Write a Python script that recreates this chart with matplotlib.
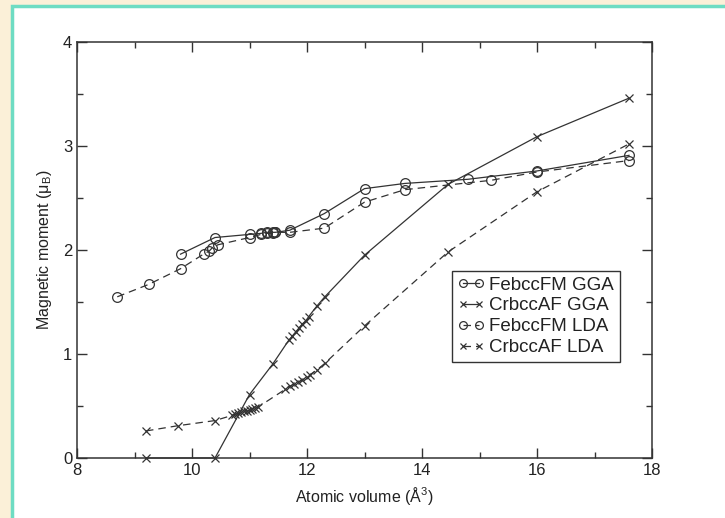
import matplotlib
matplotlib.use('Agg')
import matplotlib.pyplot as plt
from matplotlib.patches import Rectangle
from matplotlib.ticker import MultipleLocator

plt.rcParams['font.family'] = ['Liberation Sans', 'DejaVu Sans']
plt.rcParams['mathtext.fontset'] = 'custom'
plt.rcParams['mathtext.rm'] = 'Liberation Sans'

# FebccFM GGA (solid, circles)
fe_gga_v = [9.8, 10.4, 11.0, 11.2, 11.3, 11.4, 11.45, 11.7, 12.3, 13.0, 13.7, 14.8, 16.0, 17.6]
fe_gga_m = [1.96, 2.12, 2.15, 2.16, 2.17, 2.17, 2.17, 2.19, 2.35, 2.59, 2.64, 2.68, 2.76, 2.91]

# FebccFM LDA (dashed, circles)
fe_lda_v = [8.7, 9.25, 9.8, 10.2, 10.3, 10.35, 10.45, 11.0, 11.2, 11.3, 11.4, 11.45, 11.7, 12.3, 13.0, 13.7, 15.2, 16.0, 17.6]
fe_lda_m = [1.55, 1.67, 1.82, 1.96, 1.99, 2.02, 2.05, 2.12, 2.15, 2.16, 2.16, 2.17, 2.17, 2.21, 2.46, 2.58, 2.67, 2.75, 2.86]

# CrbccAF GGA (solid, crosses)
cr_gga_v = [9.2, 10.4, 11.0, 11.4, 11.68, 11.74, 11.8, 11.86, 11.92, 11.98, 12.03, 12.17, 12.31, 13.0, 14.45, 16.0, 17.6]
cr_gga_m = [0.0, 0.0, 0.61, 0.90, 1.13, 1.17, 1.21, 1.25, 1.29, 1.32, 1.36, 1.46, 1.55, 1.95, 2.63, 3.09, 3.46]

# CrbccAF LDA (dashed, crosses)
cr_lda_v = [9.2, 9.75, 10.4, 10.7, 10.75, 10.8, 10.85, 10.9, 10.95, 11.0, 11.05, 11.1, 11.15, 11.62, 11.7, 11.78, 11.85, 11.92, 12.0, 12.05, 12.18, 12.31, 13.0, 14.45, 16.0, 17.6]
cr_lda_m = [0.26, 0.31, 0.36, 0.41, 0.42, 0.43, 0.44, 0.45, 0.45, 0.46, 0.47, 0.48, 0.49, 0.66, 0.69, 0.71, 0.73, 0.75, 0.78, 0.80, 0.85, 0.91, 1.27, 1.98, 2.56, 3.02]

ink = '#333333'

fig = plt.figure(figsize=(7.25, 5.18), dpi=100)
fig.patch.set_facecolor('#fbf0d8')
# white panel with teal frame
panel = Rectangle((11.5 / 725, -0.05), 1.2, 1 - 5.5 / 518 + 0.05,
                  transform=fig.transFigure, facecolor='white',
                  edgecolor='#6edcc3', linewidth=2.5, zorder=-5)
fig.add_artist(panel)

ax = fig.add_axes([77 / 725, 60 / 518, 575 / 725, 416 / 518])
ax.set_facecolor('white')
ax.set_zorder(2)

dash = (6, 4)
ax.plot(fe_gga_v, fe_gga_m, '-', color=ink, lw=0.9, marker='o', ms=7,
        mfc='none', mec=ink, mew=0.9, label='FebccFM GGA', clip_on=False)
ax.plot(cr_gga_v, cr_gga_m, '-', color=ink, lw=0.9, marker='x', ms=6,
        mec=ink, mew=0.9, label='CrbccAF GGA', clip_on=False)
ax.plot(fe_lda_v, fe_lda_m, '--', color=ink, lw=0.9, marker='o', ms=7,
        mfc='none', mec=ink, mew=0.9, dashes=dash, label='FebccFM LDA', clip_on=False)
ax.plot(cr_lda_v, cr_lda_m, '--', color=ink, lw=0.9, marker='x', ms=6,
        mec=ink, mew=0.9, dashes=dash, label='CrbccAF LDA', clip_on=False)

ax.set_xlim(8, 18)
ax.set_ylim(0, 4)
ax.xaxis.set_major_locator(MultipleLocator(2))
ax.xaxis.set_minor_locator(MultipleLocator(1))
ax.yaxis.set_major_locator(MultipleLocator(1))
ax.yaxis.set_minor_locator(MultipleLocator(0.5))
ax.tick_params(which='both', direction='in', top=True, right=True, colors=ink,
               labelcolor='#222222', labelsize=12, width=1)
ax.tick_params(which='major', length=7)
ax.tick_params(which='minor', length=4)
for s in ax.spines.values():
    s.set_color(ink)
    s.set_linewidth(1.1)

ax.set_xlabel('Atomic volume (Å$^\\mathregular{3}$)', fontsize=11.5, color='#222222', labelpad=5)
ax.set_ylabel('Magnetic moment (μ$_\\mathregular{B}$)', fontsize=11.5, color='#222222', labelpad=6)

leg = ax.legend(loc='upper left', bbox_to_anchor=(0.652, 0.45), fontsize=13.5,
                numpoints=2, markerscale=0.8, handlelength=1.45, handletextpad=0.25,
                labelspacing=0.2, borderpad=0.3, borderaxespad=0,
                fancybox=False, framealpha=1)
leg.get_frame().set_edgecolor(ink)
leg.get_frame().set_linewidth(1.0)
for t in leg.get_texts():
    t.set_color('#222222')

fig.savefig('out.png', dpi=100, facecolor=fig.get_facecolor())
